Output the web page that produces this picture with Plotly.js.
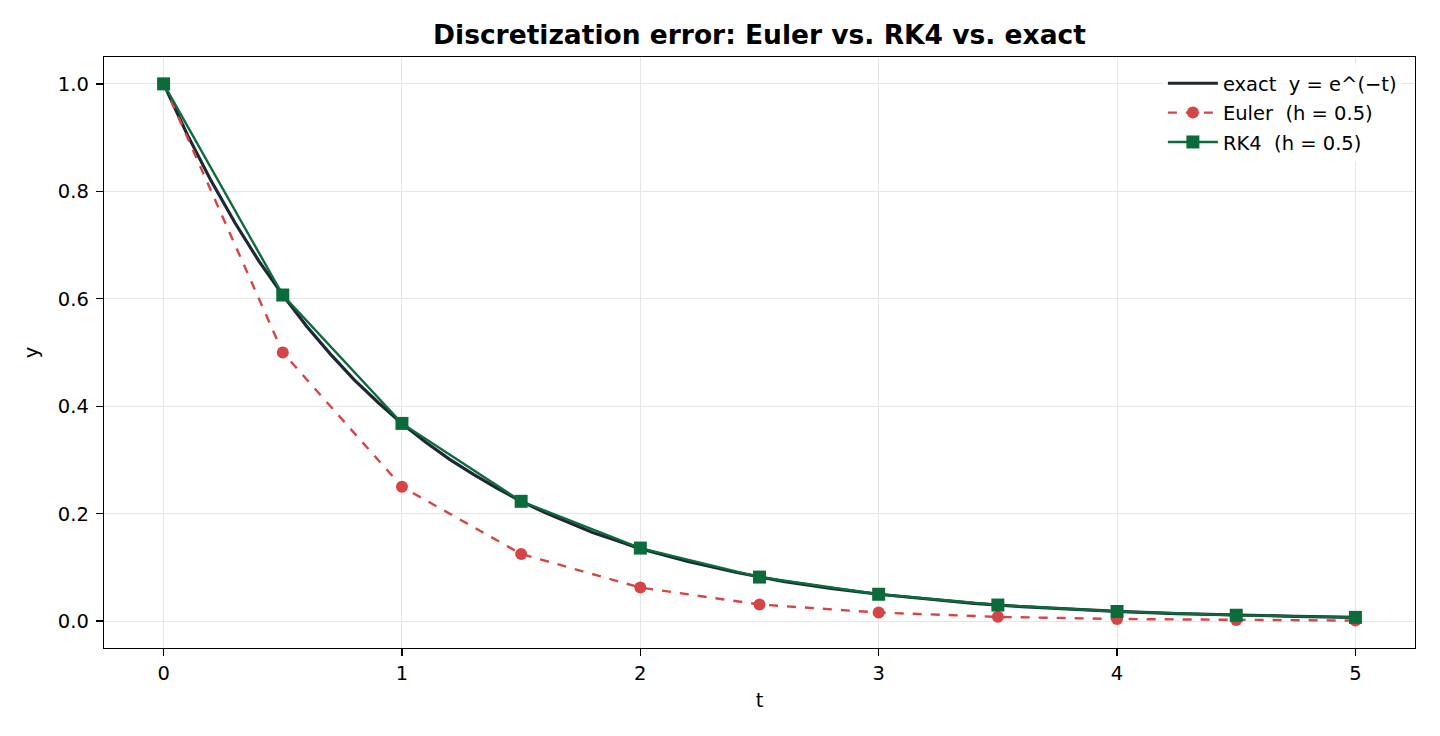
<!DOCTYPE html>
<html><head><meta charset="utf-8">
<script src="https://cdn.plot.ly/plotly-3.0.1.min.js"></script>
<style>html,body{margin:0;padding:0;background:#fff}#c{width:1440px;height:736px}</style>
</head><body><div id="c"></div>
<script>
// exact solution samples
const tExact = [0,0.1,0.2,0.3,0.4,0.5,0.6,0.7,0.8,0.9,1.0,1.1,1.2,1.3,1.4,1.5,1.6,1.7,1.8,1.9,2.0,2.2,2.4,2.6,2.8,3.0,3.2,3.4,3.6,3.8,4.0,4.25,4.5,4.75,5.0];
const yExact = [1.000,0.905,0.819,0.741,0.670,0.607,0.549,0.497,0.449,0.407,0.368,0.333,0.301,0.273,0.247,0.223,0.202,0.183,0.165,0.150,0.135,0.111,0.091,0.074,0.061,0.050,0.041,0.033,0.027,0.022,0.018,0.014,0.011,0.009,0.007];
const tSteps = [0,0.5,1.0,1.5,2.0,2.5,3.0,3.5,4.0,4.5,5.0];
const yEuler = [1.000,0.500,0.250,0.125,0.0625,0.031,0.016,0.008,0.004,0.002,0.001];
const yRK4 = [1.000,0.607,0.368,0.223,0.136,0.082,0.050,0.030,0.018,0.011,0.007];
const tickX = [0,1,2,3,4,5];
const tickXText = ['0','1','2','3','4','5'];
const tickY = [0,0.2,0.4,0.6,0.8,1.0];
const tickYText = ['0.0','0.2','0.4','0.6','0.8','1.0'];

const font = "DejaVu Sans, sans-serif";
const traces = [
  {x:tExact,y:yExact,mode:'lines',name:'exact  y = e^(\u2212t)',legendgroup:'a',line:{color:'#1f2733',width:3.2}},
  {x:tSteps,y:yEuler,mode:'lines+markers',name:'Euler  (h = 0.5)',legendgroup:'b',line:{color:'#d64545',width:2.4,dash:'dash'},marker:{symbol:'circle',size:12,color:'#d64545'}},
  {x:tSteps,y:yRK4,mode:'lines+markers',name:'RK4  (h = 0.5)',legendgroup:'c',line:{color:'#0b6b3b',width:2.4},marker:{symbol:'square',size:13,color:'#0b6b3b'}}
];
const ax = {showline:true,linecolor:'#000',linewidth:1.3,mirror:true,ticks:'outside',ticklen:7,tickwidth:1.3,tickcolor:'#000',
  showgrid:true,gridcolor:'#e6e6e6',gridwidth:1,zeroline:false,tickfont:{family:font,size:19.5,color:'#000'}};
const layout = {
  width:1440,height:736,paper_bgcolor:'#fff',plot_bgcolor:'#fff',
  margin:{l:104,r:25,t:57,b:88},
  title:{text:'<b>Discretization error: Euler vs. RK4 vs. exact</b>',xref:'paper',x:0.5,xanchor:'center',y:0.953,yanchor:'middle',font:{family:font,size:26.5,color:'#000'}},
  xaxis:Object.assign({},ax,{range:[-0.25,5.25],tickvals:tickX,ticktext:tickXText,title:{text:'t',font:{family:font,size:19.5,color:'#000'},standoff:9}}),
  yaxis:Object.assign({},ax,{range:[-0.05,1.05],tickvals:tickY,ticktext:tickYText,ticklabelstandoff:3,title:{text:'y',font:{family:font,size:19.5,color:'#000'},standoff:14}}),
  legend:{x:0.99,xanchor:'right',y:0.988,yanchor:'top',bgcolor:'rgba(255,255,255,0.8)',font:{family:font,size:19.5,color:'#000'},traceorder:'grouped',tracegroupgap:1,itemwidth:50},
  showlegend:true
};
Plotly.newPlot('c',traces,layout,{displayModeBar:false,staticPlot:true});
</script></body></html>
